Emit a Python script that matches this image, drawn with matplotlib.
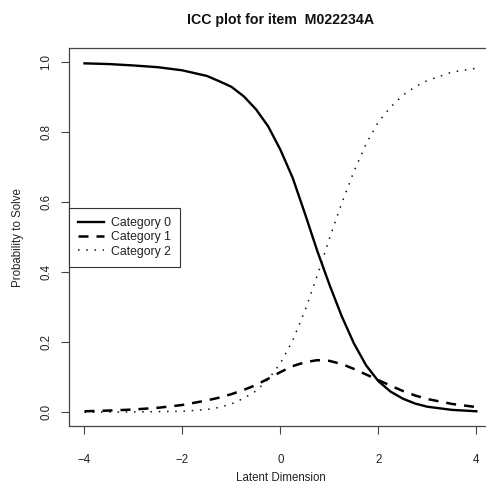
import numpy as np
import matplotlib
matplotlib.use("Agg")
import matplotlib.pyplot as plt

plt.rcParams['font.family'] = ['Liberation Sans', 'DejaVu Sans']

# latent trait grid
theta = [-4, -3.5, -3, -2.5, -2, -1.5, -1.25, -1, -0.75, -0.5, -0.25, 0, 0.25,
         0.5, 0.75, 1, 1.25, 1.5, 1.75, 2, 2.25, 2.5, 2.75, 3, 3.5, 4]
cat0 = [0.997, 0.995, 0.991, 0.986, 0.977, 0.961, 0.946, 0.930, 0.903, 0.866,
        0.817, 0.750, 0.670, 0.568, 0.462, 0.365, 0.275, 0.197, 0.134, 0.089,
        0.059, 0.039, 0.025, 0.016, 0.007, 0.003]
cat1 = [0.003, 0.005, 0.008, 0.013, 0.021, 0.034, 0.042, 0.052, 0.064, 0.078,
        0.096, 0.115, 0.132, 0.143, 0.149, 0.147, 0.138, 0.124, 0.108, 0.092,
        0.076, 0.061, 0.048, 0.038, 0.024, 0.015]
cat2 = [0.000, 0.001, 0.001, 0.002, 0.003, 0.008, 0.014, 0.024, 0.040, 0.061,
        0.094, 0.140, 0.205, 0.290, 0.390, 0.496, 0.597, 0.688, 0.767, 0.830,
        0.872, 0.906, 0.930, 0.948, 0.972, 0.983]
labels = ["Category 0", "Category 1", "Category 2"]
xticks = [-4, -2, 0, 2, 4]
yticks = [0.0, 0.2, 0.4, 0.6, 0.8, 1.0]

fig = plt.figure(figsize=(4.86, 4.87), dpi=100)
ax = fig.add_axes([0.1416, 0.1246, 0.8708, 0.7762])

ax.plot(theta, cat0, color='black', lw=1.7, label=labels[0])
ax.plot(theta, cat1, color='black', lw=1.8, dashes=(4.0, 3.2), label=labels[1])
ax.plot(theta, cat2, color='#111', lw=1.1, dashes=(1, 4.4), label=labels[2])

ax.set_xlim(-4.32, 4.32)
ax.set_ylim(-0.04, 1.04)
ax.set_xticks(xticks)
ax.set_xticklabels([f"\u2212{abs(v)}" if v < 0 else str(v) for v in xticks])
ax.set_yticks(yticks)
ax.set_yticklabels([f"{v:.1f}" for v in yticks], rotation=90, va='center')
ax.tick_params(direction='out', length=5.8, width=0.8, color='#444',
               labelsize=8.3, labelcolor='#222')
ax.tick_params(axis='x', pad=14)
ax.tick_params(axis='y', pad=6)
for s in ax.spines.values():
    s.set_color('#444')
    s.set_linewidth(0.9)

ax.set_xlabel("Latent Dimension", fontsize=8.3, color='#222', va='center')
ax.xaxis.set_label_coords(0.5, -0.1368)
ax.set_ylabel("Probability to Solve", fontsize=8.3, color='#222', va='center')
ax.yaxis.set_label_coords(-0.120, 0.5)

fig.text(0.5772, 0.959, "ICC plot for item  M022234A", ha='center', va='center',
         fontsize=10.2, fontweight='bold', color='#111')

leg = ax.legend(loc='center left', bbox_to_anchor=(0, 0.5), borderaxespad=0,
                fancybox=False, framealpha=1, edgecolor='#333', fontsize=8.8,
                handlelength=2.1, handletextpad=0.6, borderpad=0.75,
                labelspacing=0.2)
leg.get_frame().set_linewidth(0.8)
for t in leg.get_texts():
    t.set_color('#222')

fig.savefig("out.png", dpi=100)
